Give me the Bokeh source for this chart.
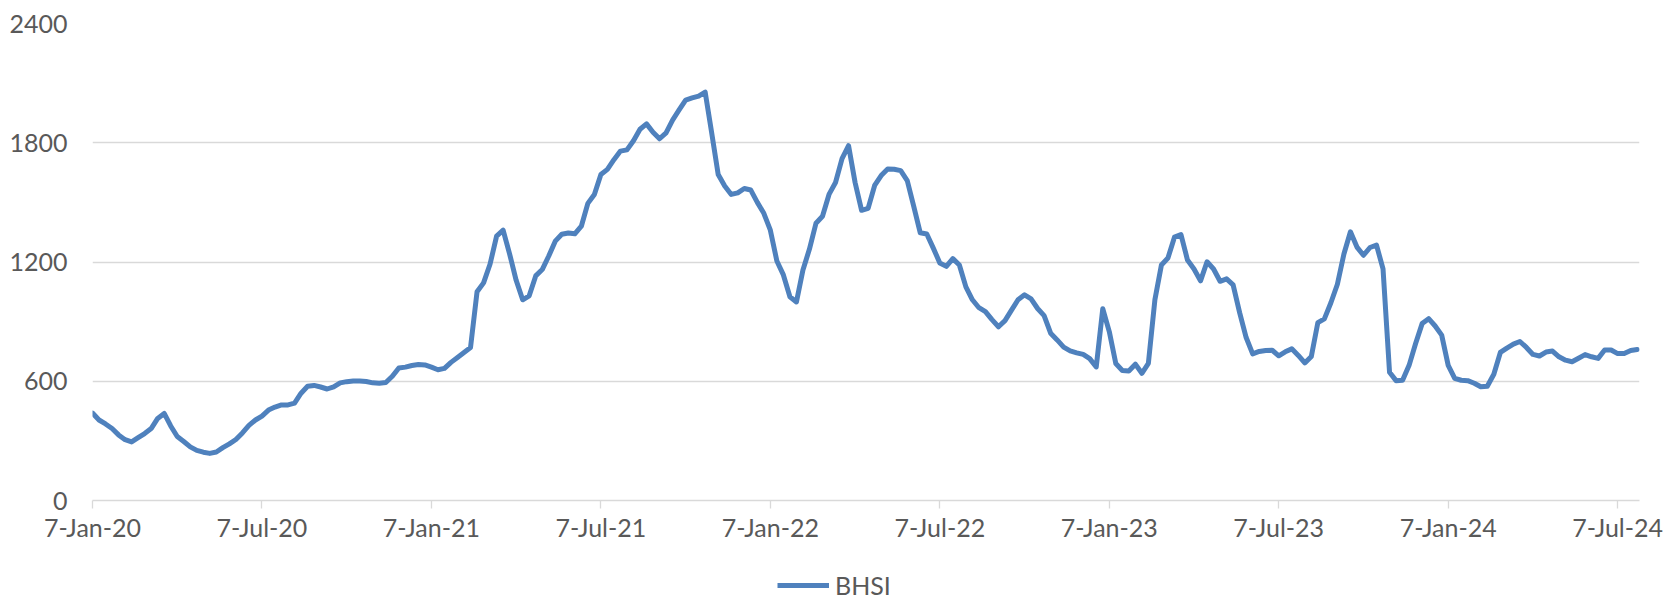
from bokeh.plotting import figure
from bokeh.layouts import column
from bokeh.models import Range1d, FixedTicker, Legend, LegendItem, ColumnDataSource
from bokeh.embed import file_html
from bokeh.resources import INLINE

# Weekly BHSI values (category axis, one value per week from 7-Jan-20)
bhsi = [
    440, 405, 385, 362, 330, 306, 295, 316, 337, 362,
    413, 438, 375, 322, 297, 270, 252, 243, 237, 244,
    266, 285, 307, 340, 378, 405, 425, 455, 470, 481,
    481, 490, 540, 575, 579, 571, 561, 572, 592, 598,
    601, 601, 599, 592, 590, 594, 625, 667, 671, 679,
    684, 682, 671, 658, 665, 695, 720, 745, 770, 1050,
    1095, 1190, 1330, 1360, 1240, 1108, 1010, 1030, 1130, 1162,
    1230, 1305, 1340, 1346, 1342, 1380, 1495, 1540, 1640, 1666,
    1715, 1758, 1764, 1810, 1868, 1895, 1853, 1820, 1850, 1914,
    1965, 2015, 2026, 2035, 2055, 1850, 1640, 1582, 1540, 1548,
    1570, 1562, 1500, 1445, 1360, 1205, 1135, 1025, 999, 1160,
    1265, 1395, 1430, 1540, 1600, 1720, 1785, 1600, 1460, 1470,
    1585, 1635, 1668, 1667, 1660, 1610, 1480, 1347, 1341, 1270,
    1195, 1178, 1217, 1185, 1075, 1010, 970, 950, 910, 874,
    905, 958, 1010, 1035, 1015, 966, 930, 842, 808, 772,
    753, 743, 735, 714, 672, 965, 850, 689, 654, 652,
    686, 640, 690, 1010, 1185, 1220, 1325, 1338, 1210, 1165,
    1105, 1201, 1165, 1103, 1115, 1085, 945, 820, 738, 750,
    755, 756, 728, 748, 763, 730, 692, 725, 895, 914,
    995, 1088, 1240, 1352, 1275, 1234, 1273, 1285, 1165, 645,
    603, 605, 680, 790, 890, 915, 878, 832, 680, 615,
    605, 603, 590, 572, 575, 635, 745, 767, 787, 800,
    770, 735, 727, 747, 752, 723, 706, 698, 716, 734,
    723, 715, 757, 757, 739, 740, 755, 760,
]
tick_labels = ["7-Jan-20", "7-Jul-20", "7-Jan-21", "7-Jul-21", "7-Jan-22",
               "7-Jul-22", "7-Jan-23", "7-Jul-23", "7-Jan-24", "7-Jul-24"]
weeks_per_tick = 26
y_ticks = [0, 600, 1200, 1800, 2400]
series_name = "BHSI"

week = list(range(len(bhsi)))
src = ColumnDataSource(dict(week=week, bhsi=bhsi))

FONT = "Lato"
FS = "25px"
TXT = "#595959"
GRID = "#D9D9D9"
BLUE = "#4F81BD"
W = 1669

p = figure(width=W, height=560, output_backend="svg", toolbar_location=None,
           x_range=Range1d(0, len(bhsi) - 1 + 0.35), y_range=Range1d(0, 2400),
           min_border_left=92, min_border_right=30, min_border_top=23,
           min_border_bottom=60)
p.outline_line_color = None
p.background_fill_color = "white"
p.border_fill_color = "white"

r = p.line("week", "bhsi", source=src, line_color=BLUE, line_width=5,
           line_join="round", line_cap="round")

xt = [weeks_per_tick * k for k in range(len(tick_labels))]
p.xaxis.ticker = FixedTicker(ticks=xt)
p.xaxis.major_label_overrides = {t: lab for t, lab in zip(xt, tick_labels)}
p.xaxis.axis_line_color = GRID
p.xaxis.axis_line_width = 1.3
p.xaxis.major_tick_line_color = GRID
p.xaxis.major_tick_line_width = 1.3
p.xaxis.major_tick_out = 8
p.xaxis.major_tick_in = 0
p.xaxis.minor_tick_line_color = None
p.xaxis.major_label_standoff = 3
p.xaxis.major_label_text_font = FONT
p.xaxis.major_label_text_font_size = FS
p.xaxis.major_label_text_color = TXT

p.yaxis.ticker = FixedTicker(ticks=y_ticks)
p.yaxis.axis_line_color = None
p.yaxis.major_tick_line_color = None
p.yaxis.minor_tick_line_color = None
p.yaxis.major_tick_out = 0
p.yaxis.major_tick_in = 0
p.yaxis.major_label_standoff = 25
p.yaxis.major_label_text_font = FONT
p.yaxis.major_label_text_font_size = FS
p.yaxis.major_label_text_color = TXT

p.xgrid.grid_line_color = None
p.ygrid.ticker = FixedTicker(ticks=y_ticks)
p.ygrid.grid_line_color = GRID
p.ygrid.grid_line_width = 1.3

# Legend strip below the chart (same series, drawn out of view; only its legend shows).
# Its frame is aligned with the chart frame by the column layout.
lg = figure(width=W, height=40, output_backend="svg", toolbar_location=None,
            x_axis_type=None, y_axis_type=None, min_border=0,
            x_range=Range1d(0, 1), y_range=Range1d(-2, -1))
lg.outline_line_color = None
lg.xgrid.grid_line_color = None
lg.ygrid.grid_line_color = None
lr = lg.line("week", "bhsi", source=src, line_color=BLUE, line_width=5)
legend = Legend(items=[LegendItem(label=series_name, renderers=[lr])],
                orientation="horizontal", location=(685, 0),
                border_line_color=None, background_fill_alpha=0,
                label_text_font=FONT, label_text_font_size=FS,
                label_text_color=TXT, glyph_width=52, glyph_height=20,
                label_standoff=6, padding=0, margin=0)
lg.add_layout(legend, "center")

layout = column(p, lg, spacing=0)
open("out.html", "w").write(file_html(layout, INLINE))
